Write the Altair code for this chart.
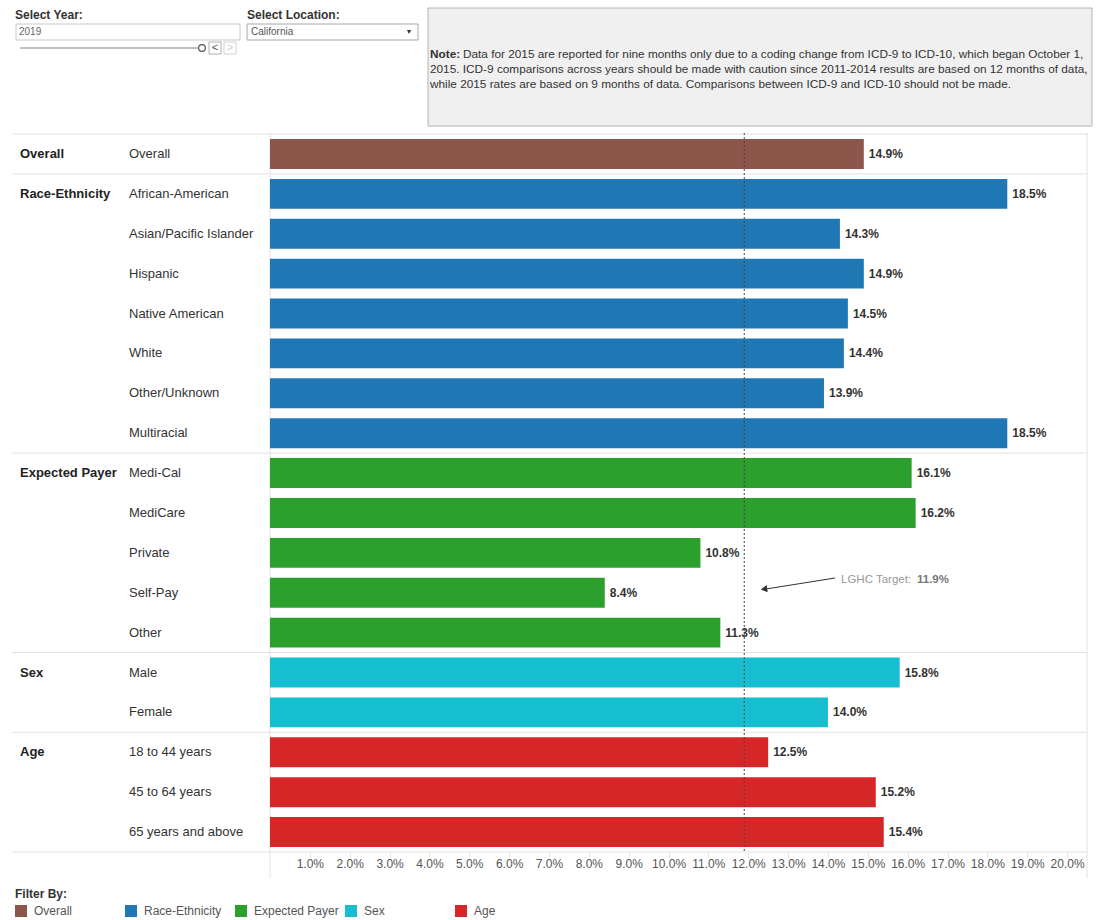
import altair as alt
import pandas as pd

# ---------------- data ----------------
groups = ["Overall", "Race-Ethnicity", "Expected Payer", "Sex", "Age"]
group_colors = ["#8c564b", "#1f77b4", "#2ca02c", "#17becf", "#d62728"]

overall_items = ["Overall"]
overall_values = [14.9]
race_items = ["African-American", "Asian/Pacific Islander", "Hispanic",
              "Native American", "White", "Other/Unknown", "Multiracial"]
race_values = [18.5, 14.3, 14.9, 14.5, 14.4, 13.9, 18.5]
payer_items = ["Medi-Cal", "MediCare", "Private", "Self-Pay", "Other"]
payer_values = [16.1, 16.2, 10.8, 8.4, 11.3]
sex_items = ["Male", "Female"]
sex_values = [15.8, 14.0]
age_items = ["18 to 44 years", "45 to 64 years", "65 years and above"]
age_values = [12.5, 15.2, 15.4]

target_value = 11.9
x_tick_values = list(range(1, 21))

note_line1 = ("Data for 2015 are reported for nine months only due to a coding change "
              "from ICD-9 to ICD-10, which began October 1,")
note_line2 = ("2015. ICD-9 comparisons across years should be made with caution since "
              "2011-2014 results are based on 12 months of data,")
note_line3 = ("while 2015 rates are based on 9 months of data. Comparisons between "
              "ICD-9 and ICD-10 should not be made.")

# ---------------- table ----------------
item_lists = [overall_items, race_items, payer_items, sex_items, age_items]
value_lists = [overall_values, race_values, payer_values, sex_values, age_values]
rows = []
for g, its, vals in zip(groups, item_lists, value_lists):
    for i, (it, v) in enumerate(zip(its, vals)):
        rows.append({"group": g, "item": it, "value": v, "first": i == 0})
df = pd.DataFrame(rows)
items = list(df["item"])
df_first = df[df["first"]]
df_last = df.tail(1)

FONT = "Arial, Liberation Sans, sans-serif"
W, H = 817, 718

yscale = alt.Scale(domain=items, paddingInner=0.25, paddingOuter=0.125)
xscale = alt.Scale(domain=[0, 20.5], nice=False, zero=True)
xaxis = alt.Axis(values=x_tick_values, labelExpr="format(datum.value, '.1f') + '%'",
                 grid=False, domain=False, tickColor="#e6e6e6", tickSize=5,
                 labelPadding=1, labelFontSize=12, labelColor="#555", title=None,
                 labelFont=FONT)
y_enc = alt.Y("item:N", sort=items, scale=yscale, axis=None)
x_enc = alt.X("value:Q", scale=xscale, axis=xaxis)

base = alt.Chart(df)
one = alt.Chart(pd.DataFrame({"k": [0]}))

sep_top = alt.Chart(df_first).mark_rule(color="#e2e2e2", yOffset=-5, strokeWidth=1).encode(
    y=alt.Y("item:N", sort=items, scale=yscale, axis=None, bandPosition=0),
    x=alt.value(-258), x2=alt.value(W))
sep_bottom = alt.Chart(df_last).mark_rule(color="#e2e2e2", yOffset=5, strokeWidth=1).encode(
    y=alt.Y("item:N", sort=items, scale=yscale, axis=None, bandPosition=1),
    x=alt.value(-258), x2=alt.value(W))

borders = one.mark_rule(color="#e2e2e2").encode(
    x=alt.value(0), y=alt.value(-1), y2=alt.value(744))
borders_r = one.mark_rule(color="#e2e2e2").encode(
    x=alt.value(W), y=alt.value(-1), y2=alt.value(744))

bars = base.mark_bar().encode(
    y=y_enc, x=x_enc,
    color=alt.Color("group:N", scale=alt.Scale(domain=groups, range=group_colors),
                    legend=alt.Legend(title="Filter By:", orient="none",
                                      legendX=-255, legendY=755,
                                      direction="horizontal", columns=5,
                                      gridAlign="all", columnPadding=6,
                                      symbolType="square", symbolSize=144,
                                      symbolStrokeWidth=0, symbolOpacity=1,
                                      labelFontSize=12, labelColor="#555",
                                      labelFont=FONT, labelOffset=7,
                                      titleFont=FONT, titleFontSize=12,
                                      titleFontWeight="bold", titleColor="#333",
                                      titlePadding=4)))

value_text = base.mark_text(align="left", dx=5, fontSize=12, fontWeight="bold",
                            color="#333", font=FONT).transform_calculate(
    lab="format(datum.value, '.1f') + '%'").encode(y=y_enc, x=x_enc, text="lab:N")

item_text = base.mark_text(align="left", fontSize=13, color="#333", font=FONT).encode(
    y=y_enc, x=alt.value(-141), text="item:N")
group_text = alt.Chart(df_first).mark_text(align="left", fontSize=13, fontWeight="bold",
                                           color="#222", font=FONT).encode(
    y=y_enc, x=alt.value(-250), text="group:N")

target = alt.Chart(pd.DataFrame({"value": [target_value]})).mark_rule(
    color="#444", strokeDash=[2, 2], strokeWidth=1).encode(
    x=x_enc, y=alt.value(-1), y2=alt.value(H))

ann_line = one.mark_rule(color="#333", strokeWidth=1).encode(
    x=alt.value(565), x2=alt.value(496), y=alt.value(444), y2=alt.value(455))
ann_head = one.mark_point(shape="triangle-left", filled=True, size=55, color="#333",
                          opacity=1, angle=352).encode(x=alt.value(494), y=alt.value(455))
ann_t1 = one.mark_text(align="left", fontSize=11.5, color="#999", font=FONT).encode(
    x=alt.value(571), y=alt.value(446), text=alt.value("LGHC Target:"))
ann_t2 = alt.Chart(pd.DataFrame({"value": [target_value]})).mark_text(
    align="left", fontSize=11.5, fontWeight="bold", color="#777", font=FONT).transform_calculate(
    lab="format(datum.value, '.1f') + '%'").encode(
    x=alt.value(647), y=alt.value(446), text="lab:N")

# ---------------- top controls (decoration) ----------------
NOTE_FS = 11.8
ui = []
ui.append(one.mark_text(align="left", fontSize=12, fontWeight="bold", color="#333",
                        font=FONT).encode(x=alt.value(-255), y=alt.value(-119),
                                          text=alt.value("Select Year:")))
ui.append(one.mark_rect(fill="white", stroke="#c8c8c8").encode(
    x=alt.value(-254), x2=alt.value(-30), y=alt.value(-110), y2=alt.value(-94)))
ui.append(one.mark_text(align="left", fontSize=10, color="#666", font=FONT).encode(
    x=alt.value(-251), y=alt.value(-102), text=alt.value("2019")))
ui.append(one.mark_rule(color="#c0c0c0", strokeWidth=2).encode(
    x=alt.value(-250), x2=alt.value(-72), y=alt.value(-86)))
ui.append(one.mark_point(shape="circle", size=45, color="#555", fill="white",
                         strokeWidth=1.2, opacity=1).encode(
    x=alt.value(-68), y=alt.value(-86)))
ui.append(one.mark_rect(fill="white", stroke="#b0b0b0").encode(
    x=alt.value(-61), x2=alt.value(-49), y=alt.value(-92), y2=alt.value(-80)))
ui.append(one.mark_rect(fill="white", stroke="#d0d0d0").encode(
    x=alt.value(-46), x2=alt.value(-34), y=alt.value(-92), y2=alt.value(-80)))
ui.append(one.mark_text(fontSize=11, color="#555", font=FONT).encode(
    x=alt.value(-55), y=alt.value(-86), text=alt.value("<")))
ui.append(one.mark_text(fontSize=11, color="#ccc", font=FONT).encode(
    x=alt.value(-40), y=alt.value(-86), text=alt.value(">")))
ui.append(one.mark_text(align="left", fontSize=12, fontWeight="bold", color="#333",
                        font=FONT).encode(x=alt.value(-23), y=alt.value(-119),
                                          text=alt.value("Select Location:")))
ui.append(one.mark_rect(fill="white", stroke="#a8a8a8").encode(
    x=alt.value(-23), x2=alt.value(148), y=alt.value(-110), y2=alt.value(-94)))
ui.append(one.mark_text(align="left", fontSize=10, color="#555", font=FONT).encode(
    x=alt.value(-19), y=alt.value(-102), text=alt.value("California")))
ui.append(one.mark_text(fontSize=7, color="#333", font=FONT).encode(
    x=alt.value(139), y=alt.value(-102), text=alt.value("\u25bc")))
ui.append(one.mark_rect(fill="#f0f0f0", stroke="#b4b4b4").encode(
    x=alt.value(158), x2=alt.value(822), y=alt.value(-126), y2=alt.value(-8)))
ui.append(one.mark_text(align="left", fontSize=NOTE_FS, fontWeight="bold", color="#333",
                        font=FONT).encode(x=alt.value(160), y=alt.value(-80),
                                          text=alt.value("Note:")))
ui.append(one.mark_text(align="left", fontSize=NOTE_FS, color="#333", font=FONT).encode(
    x=alt.value(193), y=alt.value(-80), text=alt.value(note_line1)))
ui.append(one.mark_text(align="left", fontSize=NOTE_FS, color="#333", font=FONT).encode(
    x=alt.value(160), y=alt.value(-65), text=alt.value(note_line2)))
ui.append(one.mark_text(align="left", fontSize=NOTE_FS, color="#333", font=FONT).encode(
    x=alt.value(160), y=alt.value(-50), text=alt.value(note_line3)))

chart = alt.layer(
    sep_top, sep_bottom, borders, borders_r, bars, value_text, item_text, group_text,
    target, ann_line, ann_head, ann_t1, ann_t2, *ui
).properties(
    width=W, height=H,
    autosize=alt.AutoSizeParams(type="none"),
    padding={"left": 270, "top": 134, "right": 14, "bottom": 68},
    background="white",
).configure_view(stroke=None).configure_text(font=FONT)

chart.save("out.html", embed_options={"renderer": "svg", "actions": False})
